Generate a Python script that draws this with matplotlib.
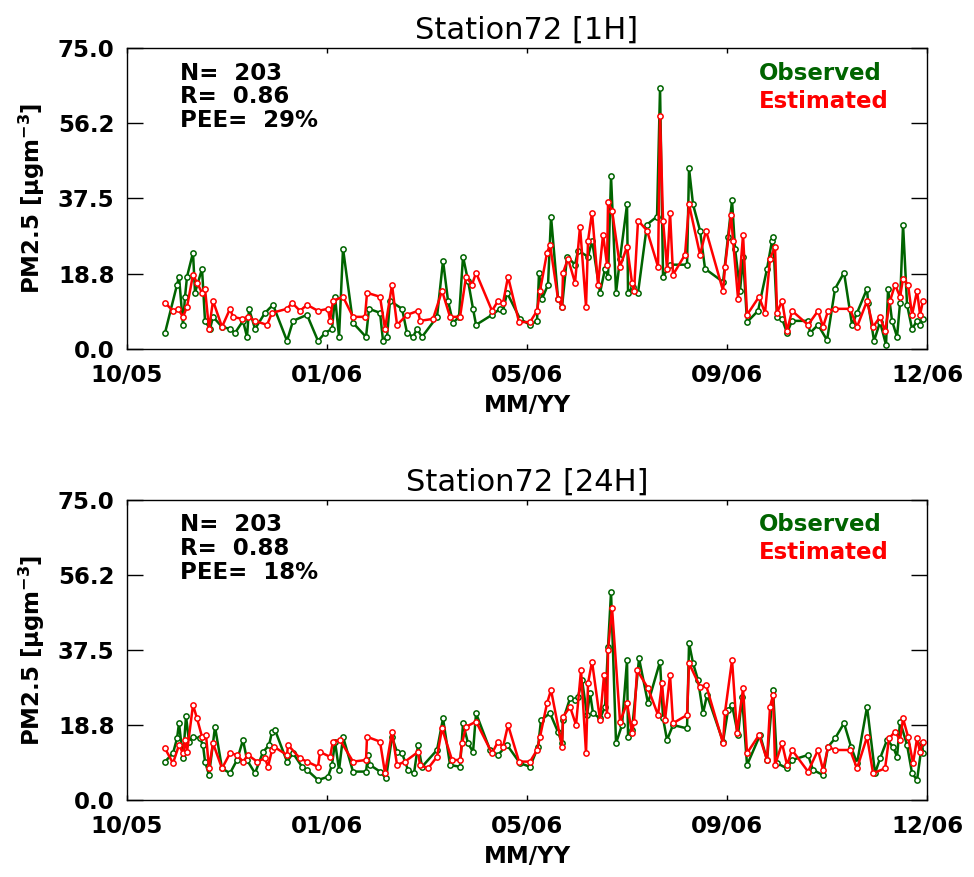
import numpy as np
import matplotlib
matplotlib.use('Agg')
import matplotlib.pyplot as plt

# time axis: index 0..800 across 10/05 -> 12/06 (labels are equally spaced)
tick_pos = [0, 200, 400, 600, 800]
tick_lab = ['10/05', '01/06', '05/06', '09/06', '12/06']
y_ticks = [0.0, 18.75, 37.5, 56.25, 75.0]
y_lab = ['0.0', '18.8', '37.5', '56.2', '75.0']

# ---- panel 1 : 1H ----
t_obs_1h = [38, 50, 52, 56, 58, 60, 66, 68, 75, 78, 83, 86, 95, 103, 108, 116, 120, 122, 128, 138,
            146, 160, 166, 180, 191, 198, 205, 208, 212, 216, 226, 239, 242, 253, 256, 260, 263, 275, 280, 286,
            290, 295, 310, 316, 321, 326, 332, 336, 341, 346, 349, 365, 373, 376, 380, 393, 403, 410, 412, 415,
            421, 424, 431, 435, 440, 448, 451, 461, 465, 473, 478, 481, 484, 489, 493, 500, 501, 506, 511, 520,
            530, 533, 536, 543, 560, 562, 566, 573, 578, 596, 601, 605, 608, 613, 616, 620, 631, 640, 645, 646,
            650, 655, 660, 665, 681, 683, 691, 700, 708, 717, 725, 730, 740, 741, 747, 753, 759, 761, 765, 770,
            773, 776, 780, 785, 790, 793, 796]
obs_1h = [4.0, 16, 18, 6, 13, 18, 24, 14, 20, 7, 5, 8, 5.5, 5, 4, 7, 3, 10, 5, 9,
          11, 2, 7, 8.5, 2, 4, 5, 13, 3, 25, 6.5, 3, 10, 9, 2, 3, 12, 10, 4, 3,
          5, 3, 8, 22, 12, 6.5, 8, 23, 17, 10, 6, 8.5, 10, 9.5, 14, 7.5, 6, 7, 19, 12.5,
          16, 33, 12.5, 10.5, 23, 21, 24.5, 23, 27, 14, 20, 18, 43, 14, 22.5, 36, 14, 15.5, 14, 31,
          33, 65, 18, 21, 21, 45, 36, 29.5, 20, 16.7, 28, 37, 25, 14.5, 23, 6.7, 9.5, 20, 27, 28,
          8, 7.5, 4, 7, 7, 4, 6, 2.2, 15, 19, 6, 9, 15, 11.5, 2, 6.7, 1, 15, 7, 3,
          11.5, 31, 11, 5, 7, 6, 7.5]
t_est_1h = [38, 46, 51, 56, 60, 66, 70, 75, 78, 82, 86, 95, 103, 106, 115, 121, 128, 140, 145, 160,
            165, 173, 180, 191, 201, 203, 206, 216, 226, 238, 240, 253, 258, 265, 270, 280, 291, 293, 306, 315,
            323, 333, 339, 345, 349, 365, 371, 376, 381, 392, 403, 410, 413, 420, 423, 431, 435, 436, 441, 448,
            453, 459, 461, 465, 471, 476, 480, 481, 485, 493, 500, 505, 507, 511, 520, 531, 533, 536, 540, 543,
            546, 558, 562, 573, 579, 596, 598, 604, 606, 611, 616, 620, 632, 638, 643, 648, 650, 655, 660, 665,
            681, 691, 696, 701, 708, 723, 730, 740, 746, 753, 758, 763, 768, 773, 776, 781, 785, 790, 793, 796]
est_1h = [11.5, 9.5, 10, 8, 10.5, 18.5, 16.5, 14, 15, 5, 12, 5.5, 10, 8, 7.5, 8, 7, 6, 9, 10,
          11.5, 9.5, 11, 9.5, 10, 7, 12, 13, 8, 8, 14, 13, 5, 16, 6, 8.5, 9.5, 7, 7.5, 14.5,
          8, 8, 18, 16, 19, 9.5, 12, 11.5, 18, 6.7, 6.7, 9.5, 14.5, 24, 26, 12.5, 10.5, 19, 22.5, 16.5,
          30.5, 10.5, 27, 34, 16, 28.5, 21, 36.5, 34.5, 20.5, 25.5, 16.5, 14.5, 32, 29.5, 20.5, 58, 32, 20, 34,
          18.5, 23.5, 36, 23.5, 29.5, 14.5, 20.5, 33.5, 27, 12.5, 28.5, 8.5, 13, 9, 22.5, 25.5, 9, 12, 4.5, 9.5,
          6, 9.5, 5.5, 9.5, 10, 10, 5.5, 12, 5.5, 8, 4.5, 12, 16, 13, 17.5, 16, 8.5, 14.5, 8.5, 12]

# ---- panel 2 : 24H ----
t_obs_24h = [38, 46, 50, 52, 56, 59, 62, 66, 73, 76, 78, 82, 88, 95, 103, 110, 116, 120, 128, 136,
             142, 145, 148, 160, 166, 175, 180, 191, 201, 205, 208, 212, 216, 226, 239, 241, 243, 253, 259, 265,
             270, 275, 281, 287, 291, 295, 310, 316, 323, 333, 336, 341, 346, 349, 363, 371, 380, 393, 403, 411,
             414, 423, 431, 435, 436, 443, 448, 451, 455, 460, 463, 466, 473, 478, 481, 484, 489, 495, 500, 501,
             505, 512, 521, 533, 536, 540, 546, 560, 562, 566, 571, 576, 580, 596, 601, 605, 611, 615, 620, 633,
             640, 646, 650, 660, 665, 681, 686, 696, 701, 708, 717, 724, 730, 740, 748, 753, 760, 766, 770, 773,
             780, 785, 790, 795, 796]
obs_24h = [9.6, 11.7, 15.4, 19.2, 10.4, 21, 14.6, 15.8, 15.4, 13.7, 9.6, 6.25, 18.3, 7.9, 6.7, 10, 15, 10, 6.7, 12,
           13.7, 17, 17.5, 9.6, 11.7, 8.3, 7.5, 5, 5.8, 8.75, 14.6, 7.5, 15.8, 7.1, 7.1, 11.25, 8.75, 7.1, 5.4, 15.8,
           12, 11.7, 7.5, 6.7, 13.75, 8.3, 12.5, 20.4, 8.75, 8.3, 19.2, 14.2, 12, 21.7, 12.5, 11.25, 13.75, 9.2, 8.3, 13.3,
           20, 21.7, 17, 14.2, 20, 25.4, 25, 25.8, 30, 21.25, 26.7, 21.7, 20.4, 23.3, 38.3, 52, 14.2, 18.75, 35, 15.8,
           17.5, 35.4, 24.2, 34.6, 20.4, 15, 18.75, 17.9, 39.2, 34.2, 30, 21.7, 26.25, 14.6, 22.5, 23.75, 16.25, 25.8, 8.75, 16.25,
           10, 27.5, 9.2, 7.9, 10, 11.25, 7.5, 6.25, 13.3, 15.4, 19.2, 13.3, 9.2, 23.3, 6.7, 10.4, 15, 13.3, 10.8, 19.6,
           13.75, 6.7, 5, 14.2, 11.7]
t_est_24h = [38, 46, 52, 56, 58, 60, 66, 70, 75, 79, 82, 86, 95, 103, 110, 116, 121, 130, 138, 141,
             145, 147, 160, 161, 173, 180, 191, 193, 203, 206, 213, 226, 239, 240, 253, 258, 265, 270, 278, 291,
             293, 301, 310, 315, 325, 333, 335, 339, 349, 365, 371, 376, 381, 392, 403, 410, 413, 420, 424, 435,
             436, 443, 449, 454, 459, 461, 465, 473, 477, 480, 481, 485, 493, 500, 505, 507, 510, 521, 531, 535,
             538, 543, 546, 560, 562, 573, 579, 596, 598, 605, 610, 616, 620, 632, 640, 643, 646, 648, 655, 660,
             665, 681, 691, 696, 701, 708, 723, 730, 740, 746, 758, 762, 768, 773, 776, 781, 786, 790, 793, 796]
est_24h = [12.9, 9.2, 13.75, 11.7, 15, 12, 23.75, 20.4, 15.8, 16.25, 7.9, 14.2, 7.9, 11.7, 11.25, 9.6, 11.25, 9.6, 10.4, 8.3,
           12.5, 13.3, 11.25, 13.75, 10.4, 9.6, 8.3, 12, 10.8, 14.6, 15, 9.6, 10, 15.8, 14.6, 6.7, 17, 8.75, 9.6, 12,
           8.75, 7.9, 10.8, 17.9, 10, 10, 14.2, 18.3, 19.6, 11.7, 14.6, 13.3, 18.75, 9.6, 9.6, 12.5, 15.8, 24.2, 27.5, 13.3,
           20.8, 23.3, 18.75, 32.5, 11.7, 29.2, 34.6, 20, 31.25, 21.25, 37.5, 48, 19.6, 24.2, 16.7, 19.6, 32.5, 27.9, 21.25, 29.2,
           20, 31.25, 19.2, 21.25, 34.2, 28.3, 28.75, 14.2, 22, 35, 16.7, 27.9, 11.7, 16.25, 10, 23.3, 26.25, 8.75, 14.2, 8.75,
           12.5, 7.1, 12.5, 7.5, 13.3, 12.5, 12.5, 7.9, 15.8, 6.7, 7.9, 15.4, 17.1, 15, 20.4, 15.8, 9.2, 15.4, 12, 14.6]

titles = ['Station72 [1H]', 'Station72 [24H]']
n_vals = [203, 203]
r_vals = [0.86, 0.88]
pee_vals = [29, 18]

panels = [(t_obs_1h, obs_1h, t_est_1h, est_1h),
          (t_obs_24h, obs_24h, t_est_24h, est_24h)]

green = '#006400'
red = '#ff0000'

plt.rcParams['font.family'] = 'DejaVu Sans'
plt.rcParams['mathtext.fontset'] = 'dejavusans'
plt.rcParams['mathtext.default'] = 'bf'

fig = plt.figure(figsize=(9.74, 8.77), dpi=100)
boxes = [[0.1304, 0.6021, 0.8214, 0.3432],
         [0.1304, 0.0878, 0.8214, 0.3421]]

for k in range(2):
    ax = fig.add_axes(boxes[k])
    t_o, y_o, t_e, y_e = panels[k]
    ax.plot(t_o, y_o, '-o', color=green, lw=1.8, ms=3.8, mfc='white', mew=1.1)
    ax.plot(t_e, y_e, '-o', color=red, lw=1.8, ms=3.8, mfc='white', mew=1.1)

    ax.set_xlim(0, 800)
    ax.set_ylim(0, 75)
    ax.set_xticks(tick_pos)
    ax.set_xticklabels(tick_lab, fontsize=16.5, fontweight='bold')
    ax.set_yticks(y_ticks)
    ax.set_yticklabels(y_lab, fontsize=16.5, fontweight='bold')
    ax.tick_params(axis='y', direction='in', length=11.5, width=1.0, right=True, pad=9)
    ax.tick_params(axis='x', direction='in', length=3.5, width=1.0, top=True, pad=11)
    for s in ax.spines.values():
        s.set_linewidth(1.0)

    ax.set_title(titles[k], fontsize=22, pad=7)
    ax.set_xlabel('MM/YY', fontsize=16.5, fontweight='bold', labelpad=5)
    ax.set_ylabel(r'PM2.5 [$\mu$gm$^{-3}$]', fontsize=16.5, fontweight='bold', labelpad=8)

    stats = 'N=  %d\nR=  %.2f\nPEE=  %d%%' % (n_vals[k], r_vals[k], pee_vals[k])
    ax.text(0.066, 0.955, stats, transform=ax.transAxes, fontsize=16.5, fontweight='bold',
            va='top', ha='left', linespacing=1.05)
    ax.text(0.79, 0.955, 'Observed', transform=ax.transAxes, fontsize=16.5, fontweight='bold',
            color=green, va='top', ha='left')
    ax.text(0.79, 0.862, 'Estimated', transform=ax.transAxes, fontsize=16.5, fontweight='bold',
            color=red, va='top', ha='left')

plt.savefig('out.png', dpi=100)
